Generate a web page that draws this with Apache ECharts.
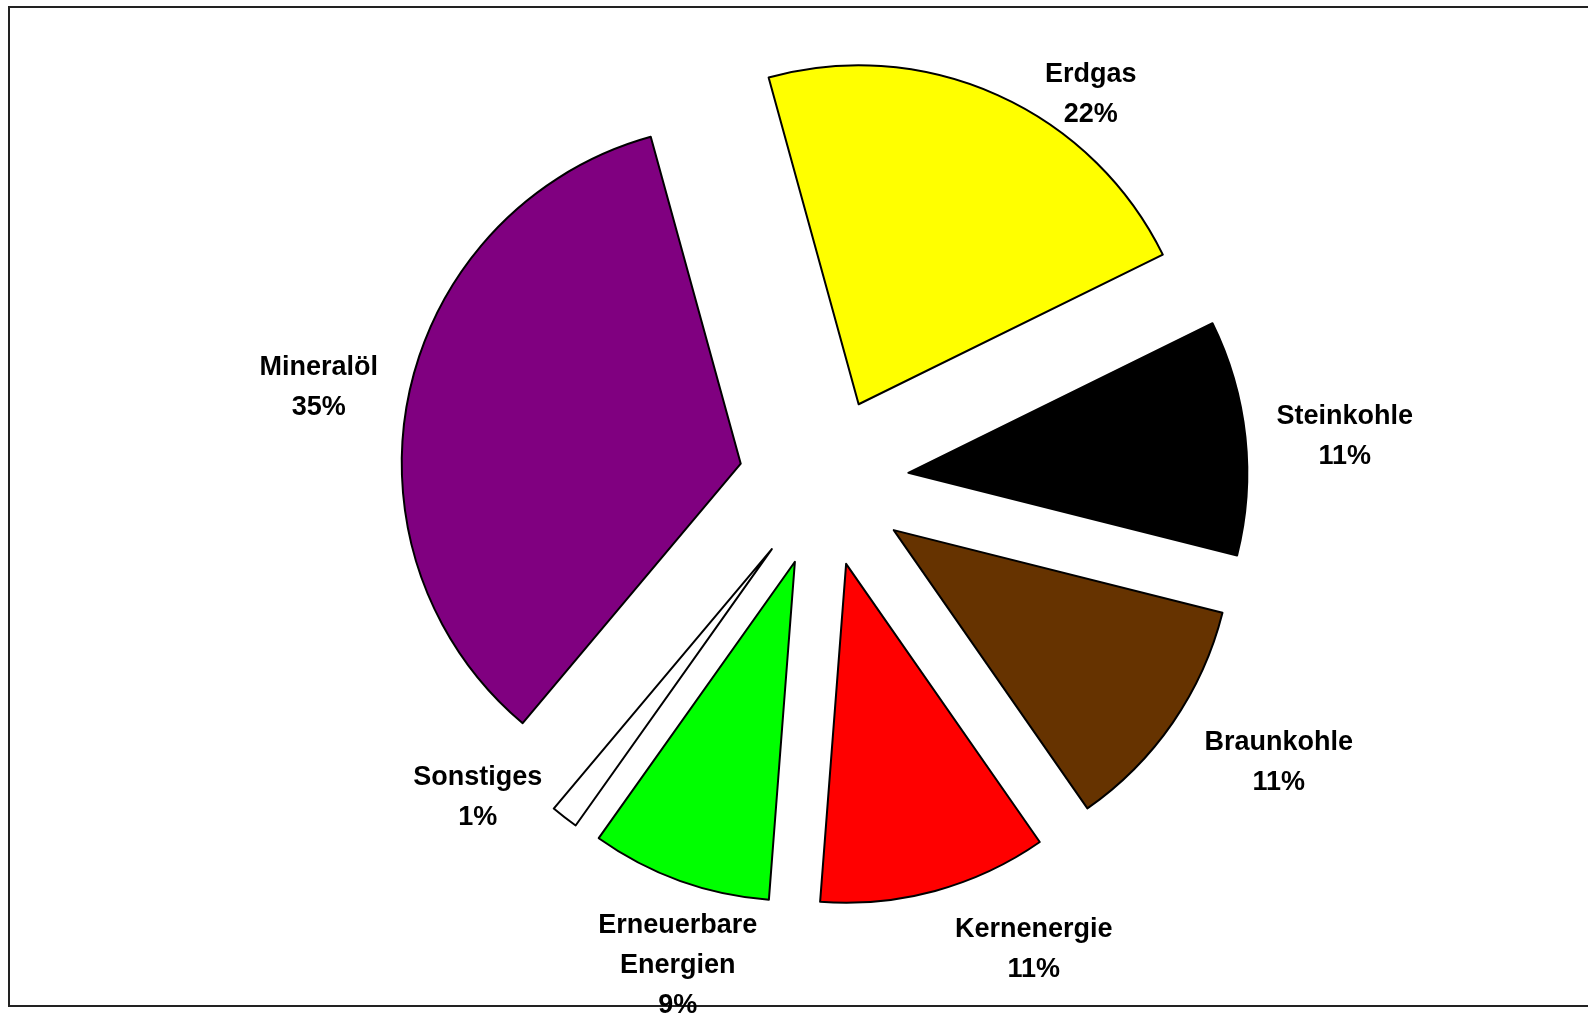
<!DOCTYPE html>
<html>
<head>
<meta charset="utf-8">
<title>Energieträger</title>
<script src="https://cdn.jsdelivr.net/npm/echarts@6/dist/echarts.min.js"></script>
<style>
  html, body { margin: 0; padding: 0; background: #fff; }
  #chart { width: 1588px; height: 1016px; }
</style>
</head>
<body>
<div id="chart"></div>
<script>
// Anteile in %, im Uhrzeigersinn ab Erdgas
let categories = ['Erdgas', 'Steinkohle', 'Braunkohle', 'Kernenergie', 'Erneuerbare Energien', 'Sonstiges', 'Mineralöl'];
let shares = [22.0, 11.2, 11.4, 10.9, 8.6, 1.3, 34.6];
let colors = ['#ffff00', '#000000', '#663300', '#ff0000', '#00ff00', '#ffffff', '#800080'];

// label centres relative to the pie centre (px)
let labelOffsets = [
  [267, -387],
  [521, -45],
  [455, 281],
  [210, 468],
  [-146, 484],
  [-346, 316],
  [-505, -94]
];

let cx = 823.8, cy = 481.8;

let myChart = echarts.init(document.getElementById('chart'));

let total = shares.reduce(function (a, b) { return a + b; }, 0);

let labels = categories.map(function (name, i) {
  let o = labelOffsets[i];
  return {
    type: 'text',
    z: 100,
    silent: true,
    style: {
      text: name.replace(' ', '\n') + '\n' + Math.round(shares[i] / total * 100) + '%',
      x: cx + o[0],
      y: cy + o[1],
      textAlign: 'center',
      textVerticalAlign: 'middle',
      font: 'bold 27px "Liberation Sans", Arial, sans-serif',
      lineHeight: 40,
      fill: '#000'
    }
  };
});

let option = {
  animation: false,
  backgroundColor: '#fff',
  graphic: [
    {
      type: 'rect',
      z: 1,
      shape: { x: 9, y: 7, width: 1620, height: 999 },
      style: { fill: 'none', stroke: '#222', lineWidth: 2 },
      silent: true
    }
  ].concat(labels),
  series: [
    {
      type: 'pie',
      center: [cx, cy],
      radius: [0, 339],
      startAngle: 105.4,
      clockwise: true,
      selectedMode: 'multiple',
      selectedOffset: 85,
      emphasis: { scale: false },
      itemStyle: { borderColor: '#000', borderWidth: 2 },
      label: { show: false },
      labelLine: { show: false },
      data: categories.map(function (name, i) {
        return {
          name: name,
          value: shares[i],
          selected: true,
          itemStyle: { color: colors[i] }
        };
      })
    }
  ]
};

myChart.setOption(option);
</script>
</body>
</html>
